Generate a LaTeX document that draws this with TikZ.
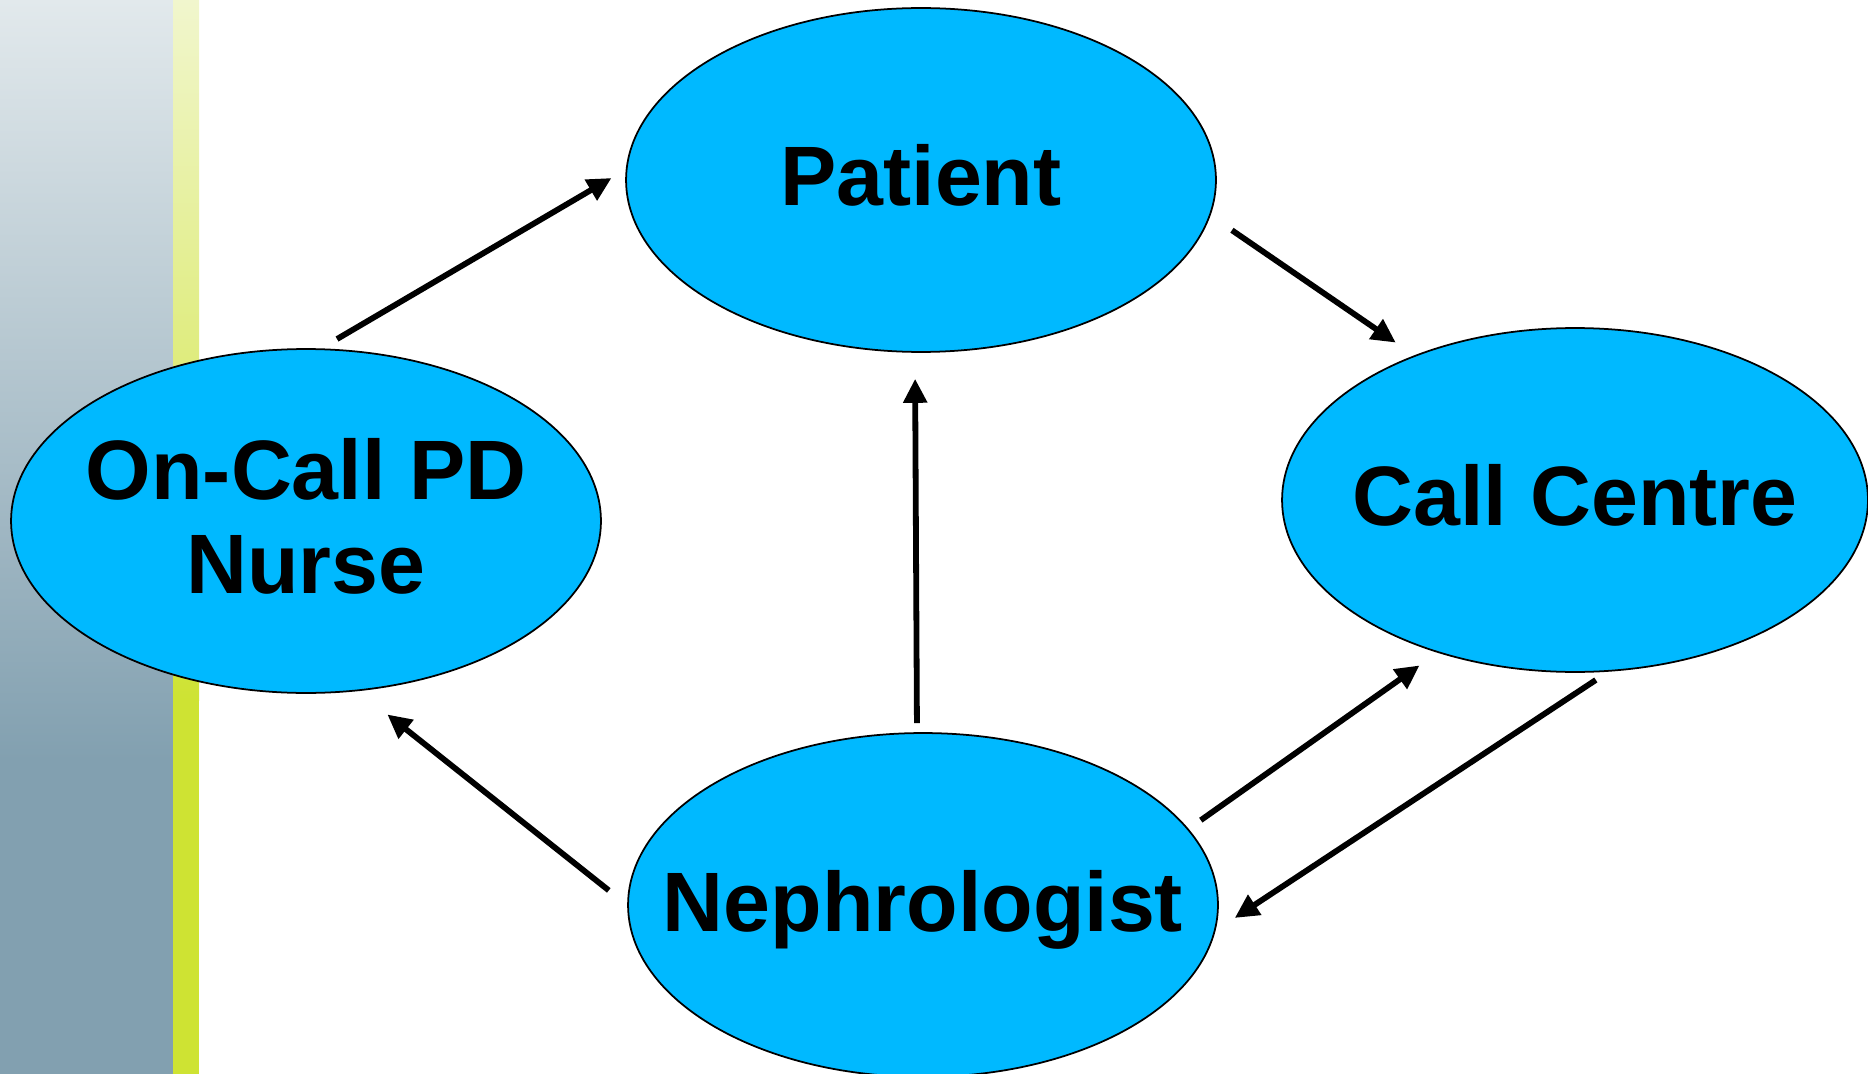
\documentclass[tikz,border=0pt]{standalone}
\usepackage{fontspec}
\setmainfont{Liberation Sans}
\usetikzlibrary{arrows.meta,shapes.geometric}
\definecolor{bubble}{HTML}{00B9FF}
\definecolor{barTop}{HTML}{E2E9EC}
\definecolor{barBottom}{HTML}{82A0B0}
\definecolor{stripTop}{HTML}{F1F6CD}
\definecolor{stripBottom}{HTML}{CEE333}

\begin{document}
\begin{tikzpicture}[x=0.02cm, y=-0.02cm]
\useasboundingbox (0,0) rectangle (1868,1074);
\shade[top color=barTop, bottom color=barBottom] (0,0) rectangle (173,760);
\fill[barBottom] (0,759) rectangle (173,1074);
\shade[top color=stripTop, bottom color=stripBottom] (173,0) rectangle (199,700);
\fill[stripBottom] (173,699) rectangle (199,1074);
\begin{scope}[every node/.style={ellipse, draw=black, line width=1pt, fill=bubble, inner sep=0pt, minimum width=11.8cm, minimum height=6.88cm, align=center, text depth=0.2cm, font=\fontsize{48}{54}\selectfont\bfseries}]
    \node (patient) at (921,180) {\makebox[0pt]{Patient}};
    \node (nurse) at (306,521) {\makebox[0pt]{On-Call PD}\\\makebox[0pt]{Nurse}};
    \node[minimum width=11.72cm] (callcentre) at (1575,500) {\makebox[0pt]{Call Centre}};
    \node[text depth=0.15cm] (nephrologist) at (923,905) {\makebox[0pt]{Nephrologist}};
\end{scope}
\begin{scope}[every edge/.style={draw=black, line width=3.3pt, -{Triangle[length=0.48cm, width=0.46cm]}}]
    \path (nurse.85.4) edge[shorten <=0.37cm, shorten >=0.33cm] (patient.178.8);
    \path (patient.353) edge[shorten <=0.52cm, shorten >=0.45cm] (callcentre.138.65);
    \path (nephrologist.92.66) edge[shorten <=0.18cm, shorten >=0.52cm] (patient.268);
    \path (nephrologist.180.9) edge[shorten <=0.47cm, shorten >=0.75cm] (nurse.287);
    \path (nephrologist.16.65) edge[shorten <=0.3cm, shorten >=0.44cm] (callcentre.228.5);
    \path (callcentre.281.1) edge[shorten <=0.3cm, shorten >=0.46cm] (nephrologist.355.8);
\end{scope}
\end{tikzpicture}
\end{document}
